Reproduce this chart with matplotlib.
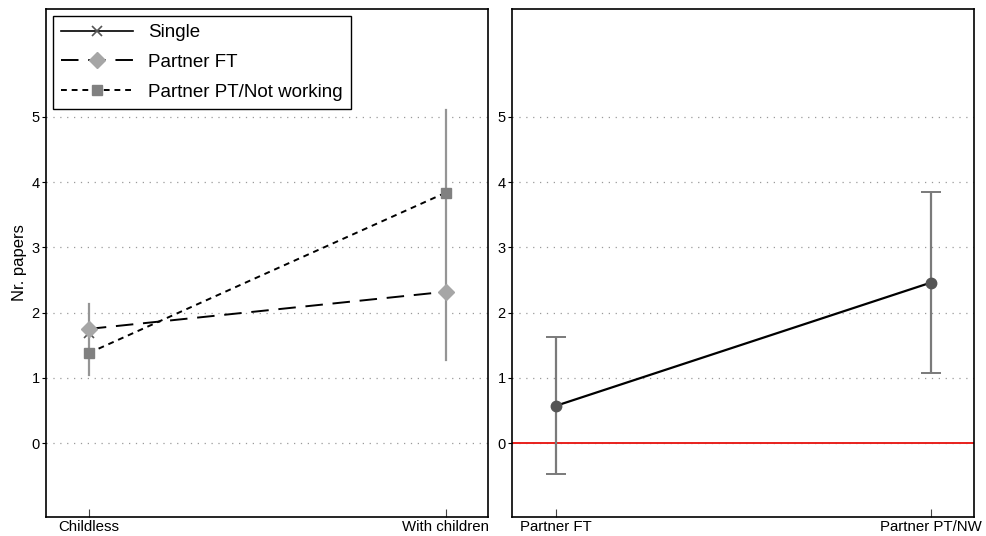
import matplotlib
matplotlib.use("Agg")
import matplotlib.pyplot as plt
import numpy as np

plt.rcParams['font.family'] = ['Liberation Sans', 'DejaVu Sans']

# Left panel data
left_categories = ["Childless", "With children"]
single_vals = [1.68]                 # single: childless only
partner_ft_vals = [1.75, 2.32]
partner_pt_vals = [1.38, 3.84]
left_err_low = [1.04, 1.27]
left_err_high = [2.13, 5.10]

# Right panel data
right_categories = ["Partner FT", "Partner PT/NW"]
right_vals = [0.57, 2.46]
right_err_low = [-0.47, 1.07]
right_err_high = [1.62, 3.85]

yticks = [0, 1, 2, 3, 4, 5]

fig = plt.figure(figsize=(9.87, 5.36), dpi=100)
ax1 = fig.add_axes([0.0466, 0.0354, 0.4478, 0.9478])
ax2 = fig.add_axes([0.5187, 0.0354, 0.4681, 0.9478])

for ax in (ax1, ax2):
    ax.set_ylim(-1.135, 6.656)
    ax.set_yticks(yticks)
    for yv in yticks:
        ax.axhline(yv, color='#9a9a9a', lw=0.9, ls=(0, (1, 4.5)), zorder=0)
    ax.tick_params(axis='y', direction='out', length=3, width=0.8, labelsize=10.5, pad=1.5)
    ax.tick_params(axis='x', direction='in', length=6, labelsize=10.8, width=0.8, color='#444444', pad=2.5)
    for s in ax.spines.values():
        s.set_linewidth(1.2)

# Left panel
xl = np.arange(len(left_categories))
ax1.set_xlim(-0.12, 1.118)
ax1.set_xticks(xl)
ax1.set_xticklabels(left_categories)
for i in range(len(xl)):
    ax1.plot([xl[i], xl[i]], [left_err_low[i], left_err_high[i]], color='#959595', lw=1.6, zorder=1)

ax1.plot(xl[:len(single_vals)], single_vals, color='black', lw=1.2, marker='x',
         markersize=7, markeredgecolor='#555555', mew=1.2, label='Single', zorder=2)
ax1.plot(xl, partner_ft_vals, color='black', lw=1.4, ls=(0, (9, 5)), marker='D',
         markersize=8, markerfacecolor='#a6a6a6', markeredgecolor='#a6a6a6', label='Partner FT', zorder=3)
ax1.plot(xl, partner_pt_vals, color='black', lw=1.4, ls=(0, (3, 2.5)), marker='s',
         markersize=7.5, markerfacecolor='#808080', markeredgecolor='#808080', label='Partner PT/Not working', zorder=3)
ax1.set_ylabel('Nr. papers', fontsize=12, labelpad=3)
leg = ax1.legend(loc='upper left', fontsize=13.5, fancybox=False, edgecolor='black',
                 framealpha=1, handlelength=3.84, borderaxespad=0.35, labelspacing=0.68,
                 handletextpad=0.8, borderpad=0.45)
leg.get_frame().set_linewidth(1.0)

# Right panel
xr = np.arange(len(right_categories))
ax2.set_xlim(-0.117, 1.115)
ax2.set_xticks(xr)
ax2.set_xticklabels(right_categories)
ax2.axhline(0, color='#e8201c', lw=1.4, zorder=1)
yerr = [np.array(right_vals) - np.array(right_err_low), np.array(right_err_high) - np.array(right_vals)]
ax2.errorbar(xr, right_vals, yerr=yerr, fmt='none', ecolor='#7a7a7a', elinewidth=1.6,
             capsize=7, capthick=1.4, zorder=2)
ax2.plot(xr, right_vals, color='black', lw=1.6, marker='o', markersize=7.5,
         markerfacecolor='#555555', markeredgecolor='#555555', zorder=3)

fig.savefig('out.png', dpi=100)
